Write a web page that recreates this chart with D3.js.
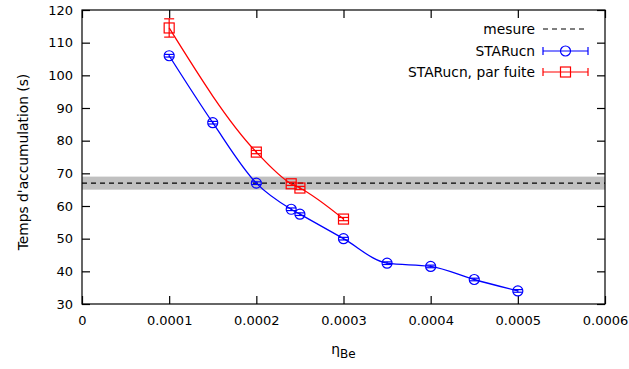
<!DOCTYPE html>
<html>
<head>
<meta charset="utf-8">
<script src="https://cdn.jsdelivr.net/npm/d3@7"></script>
<style>
  body { margin: 0; background: #fff; }
  text { font-family: "DejaVu Sans", Verdana, sans-serif; }
</style>
</head>
<body>
<div id="chart"></div>
<script>
// Data
const etaBlue = [0.0001, 0.00015, 0.0002, 0.00024, 0.00025, 0.0003, 0.00035, 0.0004, 0.00045, 0.0005];
const tBlue = [106, 85.5, 67, 59, 57.5, 50, 42.5, 41.5, 37.5, 34];
const errBlue = [0.4, 0.4, 0.4, 0.4, 0.4, 0.4, 0.4, 0.4, 0.4, 0.4];

const etaRed = [0.0001, 0.0002, 0.00024, 0.00025, 0.0003];
const tRed = [114.5, 76.5, 66.8, 65.5, 56];
const errRed = [2.8, 0.5, 0.5, 0.5, 0.5];

const mesure = 67;
const mesureErr = 2;

const xTicks = [0, 0.0001, 0.0002, 0.0003, 0.0004, 0.0005, 0.0006];
const yTicks = [30, 40, 50, 60, 70, 80, 90, 100, 110, 120];

const W = 629, H = 369;
const margin = { top: 10, right: 24, bottom: 65, left: 82 };
const width = W - margin.left - margin.right;
const height = H - margin.top - margin.bottom;

const svg = d3.select("#chart").append("svg")
  .attr("width", W).attr("height", H);

const g = svg.append("g")
  .attr("transform", `translate(${margin.left},${margin.top})`);

const x = d3.scaleLinear().domain([0, 0.0006]).range([0, width]);
const y = d3.scaleLinear().domain([30, 120]).range([height, 0]);

// gray band + dashed measurement line
g.append("rect")
  .attr("x", 0).attr("width", width)
  .attr("y", y(mesure + mesureErr))
  .attr("height", y(mesure - mesureErr) - y(mesure + mesureErr))
  .attr("fill", "#c0c0c0");

g.append("line")
  .attr("x1", 0).attr("x2", width)
  .attr("y1", y(mesure)).attr("y2", y(mesure))
  .attr("stroke", "#000").attr("stroke-width", 1.2)
  .attr("stroke-dasharray", "5,4");

// axes, ticks inward and mirrored
const fmtX = d => d === 0 ? "0" : d.toFixed(4);
const tk = 8;
g.append("g").attr("transform", `translate(0,${height})`)
  .call(d3.axisBottom(x).tickValues(xTicks).tickFormat(fmtX).tickSizeInner(-tk).tickSizeOuter(0).tickPadding(12));
g.append("g")
  .call(d3.axisTop(x).tickValues(xTicks).tickFormat("").tickSizeInner(-tk).tickSizeOuter(0));
g.append("g")
  .call(d3.axisLeft(y).tickValues(yTicks).tickSizeInner(-tk).tickSizeOuter(0).tickPadding(9));
g.append("g").attr("transform", `translate(${width},0)`)
  .call(d3.axisRight(y).tickValues(yTicks).tickFormat("").tickSizeInner(-tk).tickSizeOuter(0));

g.selectAll(".domain").remove();
g.selectAll(".tick line").attr("stroke", "#000").attr("stroke-width", 1.2);
g.selectAll(".tick text").attr("font-size", 13).attr("fill", "#000")
  .style("font-family", "'DejaVu Sans', sans-serif");

g.append("rect")
  .attr("width", width).attr("height", height)
  .attr("fill", "none").attr("stroke", "#000").attr("stroke-width", 1.2);

// series
const line = d3.line().x(d => x(d[0])).y(d => y(d[1])).curve(d3.curveMonotoneX);

function drawSeries(xs, ys, es, color, marker) {
  const pts = xs.map((v, i) => [v, ys[i], es[i]]);
  g.append("path").datum(pts)
    .attr("d", line)
    .attr("fill", "none").attr("stroke", color).attr("stroke-width", 1.3);

  const eg = g.append("g").attr("stroke", color).attr("stroke-width", 1.2).attr("fill", "none");
  pts.forEach(p => {
    const cx = x(p[0]), y1 = y(p[1] + p[2]), y2 = y(p[1] - p[2]);
    eg.append("line").attr("x1", cx).attr("x2", cx).attr("y1", y1).attr("y2", y2);
    eg.append("line").attr("x1", cx - 5).attr("x2", cx + 5).attr("y1", y1).attr("y2", y1);
    eg.append("line").attr("x1", cx - 5).attr("x2", cx + 5).attr("y1", y2).attr("y2", y2);
    if (marker === "circle") {
      eg.append("circle").attr("cx", cx).attr("cy", y(p[1])).attr("r", 5);
    } else {
      eg.append("rect").attr("x", cx - 5).attr("y", y(p[1]) - 5).attr("width", 10).attr("height", 10);
    }
  });
}

drawSeries(etaBlue, tBlue, errBlue, "#0000ff", "circle");
drawSeries(etaRed, tRed, errRed, "#ff0000", "square");

// legend
const legend = svg.append("g");
const lx1 = 543, lx2 = 588, ltx = 535;
const rows = [
  { label: "mesure", color: "#000", dash: true, y: 29 },
  { label: "STARucn", color: "#0000ff", marker: "circle", y: 51 },
  { label: "STARucn, par fuite", color: "#ff0000", marker: "square", y: 72 }
];
rows.forEach(r => {
  legend.append("text").attr("x", ltx).attr("y", r.y).attr("dy", "0.35em")
    .attr("text-anchor", "end").attr("font-size", 13.8).text(r.label);
  const lg = legend.append("g").attr("stroke", r.color).attr("stroke-width", 1.2).attr("fill", "none");
  lg.append("line").attr("x1", lx1).attr("x2", lx2).attr("y1", r.y).attr("y2", r.y)
    .attr("stroke-dasharray", r.dash ? "5,4" : null);
  if (!r.dash) {
    lg.append("line").attr("x1", lx1).attr("x2", lx1).attr("y1", r.y - 4).attr("y2", r.y + 4);
    lg.append("line").attr("x1", lx2).attr("x2", lx2).attr("y1", r.y - 4).attr("y2", r.y + 4);
    const mx = (lx1 + lx2) / 2;
    if (r.marker === "circle") lg.append("circle").attr("cx", mx).attr("cy", r.y).attr("r", 5);
    else lg.append("rect").attr("x", mx - 5).attr("y", r.y - 5).attr("width", 10).attr("height", 10);
  }
});

// axis titles
svg.append("text")
  .attr("transform", `translate(28,162) rotate(-90)`)
  .attr("text-anchor", "middle").attr("font-size", 13.8)
  .text("Temps d'accumulation (s)");

const xt = svg.append("text")
  .attr("x", margin.left + width / 2).attr("y", 354)
  .attr("text-anchor", "middle").attr("font-size", 13.8);
xt.append("tspan").text("η");
xt.append("tspan").attr("font-size", 12).attr("dy", 4).text("Be");
</script>
</body>
</html>
